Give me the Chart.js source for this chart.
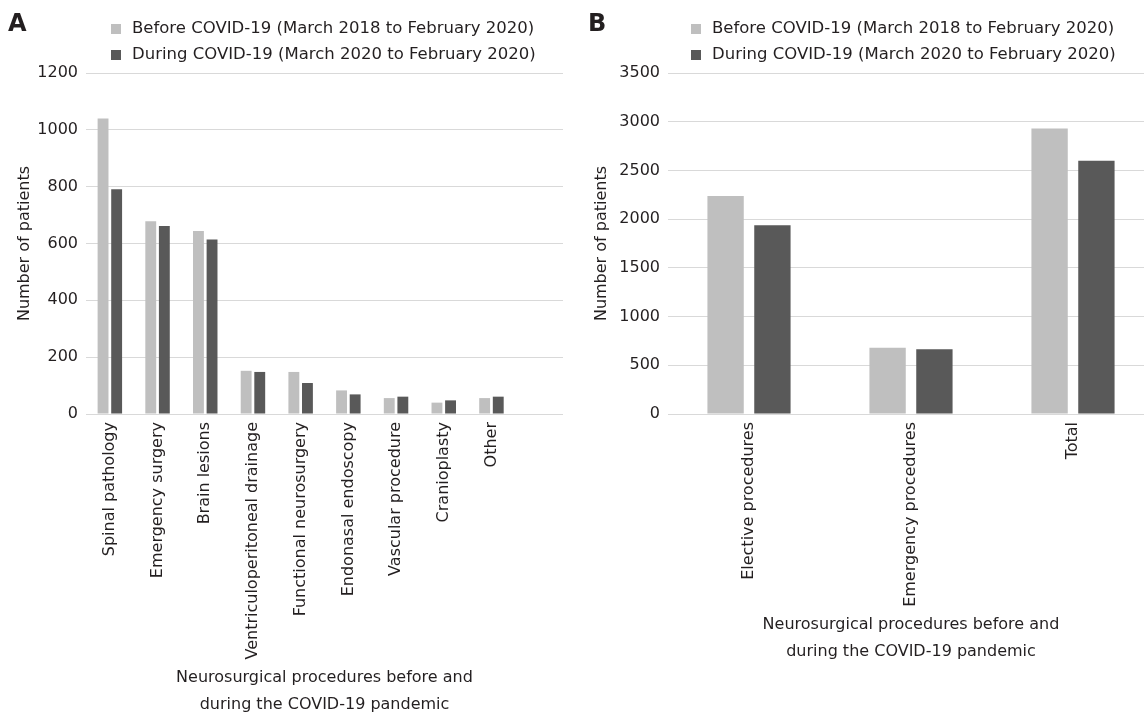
<!DOCTYPE html>
<html><head><meta charset="utf-8">
<script src="https://cdn.jsdelivr.net/npm/chart.js@4.4.0/dist/chart.umd.min.js"></script>
<style>
html,body{margin:0;padding:0;background:#fff;overflow:hidden;width:1144px;height:717px;position:relative;}
#wrapA{position:absolute;left:0;top:0;width:575px;height:717px;}
#wrapB{position:absolute;left:580px;top:0;width:600px;height:717px;}
.pl{position:absolute;font:bold 24px "DejaVu Sans";color:#231f20;line-height:1;}
</style></head><body>
<div id="wrapA"><canvas id="cA"></canvas></div>
<div id="wrapB"><canvas id="cB"></canvas></div>
<div class="pl" style="left:8px;top:11px">A</div>
<div class="pl" style="left:588px;top:11px">B</div>
<script>
const seriesNames = ['Before COVID-19 (March 2018 to February 2020)', 'During COVID-19 (March 2020 to February 2020)'];
const categoriesA = ['Spinal pathology', 'Emergency surgery', 'Brain lesions', 'Ventriculoperitoneal drainage', 'Functional neurosurgery', 'Endonasal endoscopy', 'Vascular procedure', 'Cranioplasty', 'Other', ''];
const beforeA = [1040, 678, 644, 152, 148, 83, 56, 40, 56, null];
const duringA = [791, 662, 614, 148, 109, 69, 61, 48, 61, null];
const categoriesB = ['Elective procedures', 'Emergency procedures', 'Total'];
const beforeB = [2238, 679, 2931];
const duringB = [1938, 665, 2600];
const yAxisA = { max: 1200, step: 200 };
const yAxisB = { max: 3500, step: 500 };
const yTitle = 'Number of patients';
const xTitle = ['Neurosurgical procedures before and', 'during the COVID-19 pandemic'];

const TXT = '#231f20';
const FAM = '"DejaVu Sans", sans-serif';
const LIGHT = '#bfbfbf', DARK = '#595959';

const manualLegend = {
  id: 'manualLegend',
  afterDraw(chart, args, o) {
    const ctx = chart.ctx;
    ctx.save();
    ctx.font = '16.5px ' + FAM;
    ctx.textBaseline = 'middle';
    ctx.textAlign = 'left';
    chart.data.datasets.forEach((ds, i) => {
      const y = o.y + i * o.rowGap;
      ctx.fillStyle = ds.backgroundColor;
      ctx.fillRect(o.x, y - 5, 10, 10);
      ctx.fillStyle = TXT;
      ctx.fillText(ds.label, o.x + o.textGap, y);
    });
    ctx.restore();
  }
};

function makeChart(id, labels, before, during, yAx, cfg) {
  const font = { family: FAM, size: 16 };
  return new Chart(document.getElementById(id), {
    type: 'bar',
    data: {
      labels: labels,
      datasets: [
        { label: seriesNames[0], data: before, backgroundColor: LIGHT, categoryPercentage: cfg.cp, barPercentage: cfg.bp },
        { label: seriesNames[1], data: during, backgroundColor: DARK, categoryPercentage: cfg.cp, barPercentage: cfg.bp }
      ]
    },
    plugins: [manualLegend],
    options: {
      responsive: true, maintainAspectRatio: false, animation: false,
      layout: { padding: { top: 73, right: cfg.padRight, left: 0, bottom: 0 } },
      plugins: {
        legend: { display: false }, tooltip: { enabled: false },
        manualLegend: { x: cfg.legendX, y: 29, rowGap: 26, textGap: 21 }
      },
      scales: {
        x: {
          grid: { display: false, drawTicks: false },
          border: { display: false },
          ticks: { minRotation: 90, maxRotation: 90, autoSkip: false, padding: 8, color: TXT, font: font },
          title: { display: true, text: xTitle, color: TXT, font: { family: FAM, size: 16, lineHeight: 1.6875 }, padding: { top: 0, bottom: cfg.xTitlePad } },
          afterFit(s) { s.height = cfg.xHeight; }
        },
        y: {
          min: 0, max: yAx.max,
          ticks: { stepSize: yAx.step, padding: 8, color: TXT, font: font, callback: (v) => String(v) },
          grid: { color: '#d9d9d9', drawTicks: false, lineWidth: 1 },
          border: { display: false },
          title: { display: true, text: yTitle, color: TXT, font: font, padding: { top: cfg.yTitlePad, bottom: 0 } },
          afterFit(s) { s.width = cfg.yWidth; }
        }
      }
    }
  });
}

makeChart('cA', categoriesA, beforeA, duringA, yAxisA, {
  cp: 0.57, bp: 0.8, padRight: 12, legendX: 111, xHeight: 303, yWidth: 86, yTitlePad: 15.4, xTitlePad: -1.5
});
makeChart('cB', categoriesB, beforeB, duringB, yAxisB, {
  cp: 0.578, bp: 0.776, padRight: 26, legendX: 111, xHeight: 303, yWidth: 88, yTitlePad: 12, xTitlePad: 51.5
});
</script>
</body></html>
